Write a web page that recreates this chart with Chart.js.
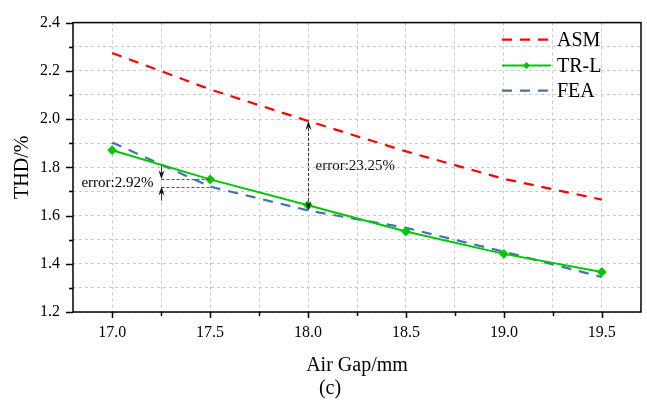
<!DOCTYPE html>
<html><head><meta charset="utf-8">
<script src="https://cdn.jsdelivr.net/npm/chart.js@4.4.0/dist/chart.umd.min.js"></script>
<style>html,body{margin:0;padding:0;background:#fff}#wrap{width:647px;height:407px}</style>
</head><body><div id="wrap"><canvas id="c" width="647" height="407"></canvas></div>
<script>
// ---- data ----
const airGap = [17.0, 17.5, 18.0, 18.5, 19.0, 19.5];
const asm = [2.274, 2.123, 1.992, 1.866, 1.752, 1.666];
const trl = [1.871, 1.750, 1.643, 1.534, 1.441, 1.366];
const fea = [1.903, 1.720, 1.621, 1.549, 1.450, 1.345];
const seriesNames = ['ASM', 'TR-L', 'FEA'];
const xTickValues = [17.0, 17.25, 17.5, 17.75, 18.0, 18.25, 18.5, 18.75, 19.0, 19.25, 19.5];
const yTickValues = [1.2, 1.3, 1.4, 1.5, 1.6, 1.7, 1.8, 1.9, 2.0, 2.1, 2.2, 2.3, 2.4];
const xAxisTitle = 'Air Gap/mm';
const yAxisTitle = 'THD/%';
const panelLabel = '(c)';
const bigErrorText = 'error:23.25%';
const smallErrorText = 'error:2.92%';
const smallErrorX = 17.25;

const FONT = "'Liberation Serif', 'Times New Roman', serif";
const isMajorX = v => Math.round(v * 100) % 50 === 0;
const isMajorY = v => Math.round(v * 10) % 2 === 0;

function pts(ys) { return airGap.map((x, i) => ({x: x, y: ys[i]})); }

function arrowHead(ctx, x, y, dir) { // dir: -1 pointing up, +1 pointing down
  ctx.beginPath();
  ctx.moveTo(x, y);
  ctx.lineTo(x - 3, y - dir * 9);
  ctx.lineTo(x, y - dir * 6);
  ctx.lineTo(x + 3, y - dir * 9);
  ctx.closePath();
  ctx.fill();
}

const decor = {
  id: 'decor',
  afterDatasetsDraw(chart) {
    const {ctx, chartArea: a, scales: {x, y}} = chart;
    ctx.save();
    // frame
    ctx.strokeStyle = '#000';
    ctx.lineWidth = 1.5;
    ctx.setLineDash([]);
    ctx.strokeRect(a.left, a.top, a.right - a.left, a.bottom - a.top);
    // ticks
    ctx.beginPath();
    y.ticks.forEach(t => {
      const py = Math.round(y.getPixelForValue(t.value)) + 0.5;
      const len = isMajorY(t.value) ? 7 : 4;
      ctx.moveTo(a.left - len, py); ctx.lineTo(a.left, py);
    });
    x.ticks.forEach(t => {
      const px = Math.round(x.getPixelForValue(t.value)) + 0.5;
      const len = isMajorX(t.value) ? 6 : 4;
      ctx.moveTo(px, a.bottom); ctx.lineTo(px, a.bottom + len);
    });
    ctx.stroke();

    // big error annotation at 18.0
    ctx.strokeStyle = '#333';
    ctx.fillStyle = '#111';
    ctx.lineWidth = 1;
    const bx = Math.round(x.getPixelForValue(airGap[2])) + 0.5;
    const by1 = y.getPixelForValue(asm[2]);
    const by2 = y.getPixelForValue(fea[2]);
    ctx.setLineDash([3, 2]);
    ctx.beginPath(); ctx.moveTo(bx, by1 + 2); ctx.lineTo(bx, by2 - 2); ctx.stroke();
    ctx.setLineDash([]);
    arrowHead(ctx, bx, by1, -1);
    arrowHead(ctx, bx, by2, 1);
    ctx.font = '15px ' + FONT;
    ctx.textBaseline = 'middle';
    ctx.textAlign = 'left';
    ctx.fillText(bigErrorText, bx + 7, (by1 + by2) / 2);

    // small error annotation at 17.25
    const sx = Math.round(x.getPixelForValue(smallErrorX)) + 0.5;
    const ex = x.getPixelForValue(airGap[1]);
    const sy1 = y.getPixelForValue(trl[1]);
    const sy2 = y.getPixelForValue(fea[1]);
    ctx.strokeStyle = '#555';
    ctx.setLineDash([3, 2]);
    ctx.beginPath();
    ctx.moveTo(sx, Math.round(sy1) + 0.5); ctx.lineTo(ex, Math.round(sy1) + 0.5);
    ctx.moveTo(sx, Math.round(sy2) + 0.5); ctx.lineTo(ex, Math.round(sy2) + 0.5);
    ctx.stroke();
    ctx.setLineDash([]);
    ctx.strokeStyle = '#333';
    ctx.beginPath();
    ctx.moveTo(sx, sy1 - 13); ctx.lineTo(sx, sy1 - 3);
    ctx.moveTo(sx, sy2 + 14); ctx.lineTo(sx, sy2 + 3);
    ctx.stroke();
    arrowHead(ctx, sx, sy1, 1);
    arrowHead(ctx, sx, sy2, -1);
    ctx.fillStyle = '#000';
    ctx.textAlign = 'right';
    ctx.fillText(smallErrorText, sx - 8, (sy1 + sy2) / 2);

    // legend
    const rows = [a.top + 17, a.top + 43, a.top + 68];
    chart.data.datasets.forEach((ds, i) => {
      const ry = rows[i];
      ctx.strokeStyle = ds.borderColor;
      ctx.lineWidth = ds.borderWidth;
      ctx.setLineDash(ds.borderDash || []);
      ctx.beginPath(); ctx.moveTo(a.right - 139, ry); ctx.lineTo(a.right - 90, ry); ctx.stroke();
      ctx.setLineDash([]);
      if (ds.pointRadius > 0) {
        const cx = a.right - 114.5, r = ds.pointRadius;
        ctx.fillStyle = ds.backgroundColor;
        ctx.beginPath();
        ctx.moveTo(cx, ry - r); ctx.lineTo(cx + r, ry); ctx.lineTo(cx, ry + r); ctx.lineTo(cx - r, ry);
        ctx.closePath(); ctx.fill();
      }
      ctx.fillStyle = '#000';
      ctx.font = '20px ' + FONT;
      ctx.textAlign = 'left';
      ctx.textBaseline = 'middle';
      ctx.fillText(ds.label, a.right - 84, ry + 1);
    });

    // panel label
    ctx.font = '20px ' + FONT;
    ctx.textAlign = 'center';
    ctx.textBaseline = 'middle';
    ctx.fillStyle = '#000';
    ctx.fillText(panelLabel, (a.left + a.right) / 2 - 27, chart.height - 18);
    ctx.restore();
  }
};

new Chart(document.getElementById('c'), {
  type: 'line',
  data: {
    datasets: [
      {label: seriesNames[0], data: pts(asm), borderColor: '#ff0000', backgroundColor: '#ff0000',
       borderWidth: 2.2, borderDash: [10, 8], pointRadius: 0, tension: 0, fill: false},
      {label: seriesNames[1], data: pts(trl), borderColor: '#00c800', backgroundColor: '#00c800',
       borderWidth: 2, pointRadius: 3.5, pointStyle: 'rectRot', tension: 0, fill: false},
      {label: seriesNames[2], data: pts(fea), borderColor: '#4472b4', backgroundColor: '#4472b4',
       borderWidth: 2.2, borderDash: [10, 8], pointRadius: 0, tension: 0, fill: false}
    ]
  },
  options: {
    responsive: false,
    animation: false,
    devicePixelRatio: 1,
    layout: {padding: {top: 14, right: 6, left: 0, bottom: 0}},
    plugins: {legend: {display: false}, tooltip: {enabled: false}},
    scales: {
      x: {
        type: 'linear', min: 16.8, max: 19.7,
        afterBuildTicks: s => { s.ticks = xTickValues.map(v => ({value: v})); },
        afterFit: s => { s.height = 95; },
        ticks: {autoSkip: false, maxRotation: 0, padding: 11, color: '#000',
          font: {family: FONT, size: 16},
          callback: v => isMajorX(v) ? v.toFixed(1) : ''},
        grid: {color: '#c8c8c8', lineWidth: 1, drawTicks: false},
        border: {display: false, dash: [3, 3]},
        title: {display: true, text: xAxisTitle, color: '#000', font: {family: FONT, size: 20},
          padding: {top: 0, bottom: 29}}
      },
      y: {
        type: 'linear', min: 1.2, max: 2.4,
        afterBuildTicks: s => { s.ticks = yTickValues.map(v => ({value: v})); },
        afterFit: s => { s.width = 73; },
        ticks: {autoSkip: false, padding: 13, color: '#000',
          font: {family: FONT, size: 16},
          callback: v => isMajorY(v) ? v.toFixed(1) : ''},
        grid: {color: '#c8c8c8', lineWidth: 1, drawTicks: false},
        border: {display: false, dash: [3, 3]},
        title: {display: true, text: yAxisTitle, color: '#000', font: {family: FONT, size: 20},
          padding: {top: 11, bottom: 0}}
      }
    }
  },
  plugins: [decor]
});
</script>
</body></html>
